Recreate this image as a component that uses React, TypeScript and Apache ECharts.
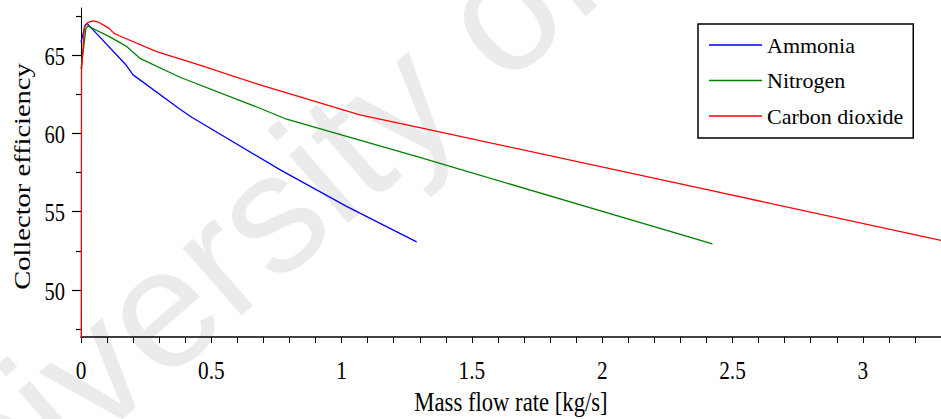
import React, { useEffect, useRef } from 'react';
import * as echarts from 'echarts';

const seriesNames = ['Ammonia', 'Nitrogen', 'Carbon dioxide'];
const seriesColors = ['#0000ff', '#008000', '#ff0000'];

const ammoniaX = [0, 0.016, 0.023, 0.173, 0.2, 0.38, 0.425, 0.763, 1.019, 1.288];
const ammoniaY = [65.8, 66.91, 67.02, 64.36, 63.73, 61.54, 61.03, 57.68, 55.34, 53.07];

const nitrogenX = [0, 0.019, 0.026, 0.109, 0.173, 0.226, 0.38, 0.687, 0.789, 1.019, 1.3, 2.423];
const nitrogenY = [64.1, 66.7, 66.85, 66.17, 65.57, 64.79, 63.58, 61.6, 60.9, 59.8, 58.46, 52.94];

const co2X = [0, 0.002, 0.009, 0.013, 0.026, 0.045, 0.064, 0.108, 0.127, 0.147, 0.29, 0.456, 0.687, 1.07, 1.3, 2.451, 3.3];
const co2Y = [30, 64.0, 65.8, 66.8, 67.06, 67.18, 67.12, 66.7, 66.38, 66.23, 65.21, 64.36, 63.09, 61.18, 60.37, 56.23, 53.17];

const xTickLabels = ['0', '0.5', '1', '1.5', '2', '2.5', '3'];
const xTicks = [0, 0.1, 0.2, 0.3, 0.4, 0.5, 0.6, 0.7, 0.8, 0.9, 1, 1.1, 1.2, 1.3, 1.4, 1.5, 1.6, 1.7, 1.8, 1.9, 2, 2.1, 2.2, 2.3, 2.4, 2.5, 2.6, 2.7, 2.8, 2.9, 3, 3.1, 3.2];
const yTickLabels = ['50', '55', '60', '65'];
const yMinorTicks = [47.5, 52.5, 57.5, 62.5, 67.5];

const xAxisTitle = 'Mass flow rate [kg/s]';
const yAxisTitle = 'Collector efficiency';
const watermarkText = 'University of';

const pairs = (xs: number[], ys: number[]) => xs.map((x, i) => [x, ys[i]]);

export default function App() {
  const ref = useRef<HTMLDivElement>(null);
  useEffect(() => {
    const chart = echarts.init(ref.current!, null, { renderer: 'svg' });
    const font = 'Liberation Serif';
    const xs = [ammoniaX, nitrogenX, co2X];
    const ys = [ammoniaY, nitrogenY, co2Y];
    const yMin = 47;
    const yMax = 68;
    const yMajorValues = yTickLabels.map(Number);
    chart.setOption({
      animation: false,
      backgroundColor: '#ffffff',
      textStyle: { fontFamily: font, fontSize: 22, color: '#000' },
      grid: { left: 81, right: 0, top: 8, bottom: 82, containLabel: false },
      xAxis: {
        type: 'value',
        min: 0,
        max: 3.3,
        axisLine: { show: true, onZero: false, lineStyle: { color: '#000', width: 1.5 } },
        axisTick: { show: true, customValues: xTicks, length: 6, lineStyle: { color: '#000', width: 1 } },
        axisLabel: { show: false },
        splitLine: { show: false },
      },
      yAxis: [
        {
          type: 'value',
          min: yMin,
          max: yMax,
          position: 'left',
          axisLine: { show: true, onZero: false, lineStyle: { color: '#000', width: 1 } },
          axisTick: { show: true, customValues: yMajorValues, length: 9, lineStyle: { color: '#000', width: 1.2 } },
          axisLabel: { show: false },
          splitLine: { show: false },
        },
        {
          type: 'value',
          min: yMin,
          max: yMax,
          position: 'left',
          offset: 0,
          axisLine: { show: false },
          axisTick: { show: true, customValues: yMinorTicks, length: 5, lineStyle: { color: '#000', width: 1.2 } },
          axisLabel: { show: false },
          splitLine: { show: false },
        },
      ],
      legend: {
        orient: 'vertical',
        left: 698,
        top: 24,
        padding: [10, 10, 11, 11],
        itemGap: 13.5,
        itemWidth: 53,
        itemHeight: 1.5,
        icon: 'rect',
        borderColor: '#000',
        borderWidth: 1.5,
        borderRadius: 0,
        backgroundColor: '#ffffff',
        textStyle: { fontFamily: font, fontSize: 22, color: '#000', lineHeight: 22 },
        data: seriesNames,
      },
      series: seriesNames.map((name, i) => ({
        name,
        type: 'line',
        data: pairs(xs[i], ys[i]),
        showSymbol: false,
        symbol: 'none',
        clip: true,
        color: seriesColors[i],
        lineStyle: { color: seriesColors[i], width: 1.3 },
        itemStyle: { color: seriesColors[i] },
        z: 2 + i,
      })),
    });

    // Labels placed through the chart's own scales
    const origin = chart.convertToPixel({ gridIndex: 0 }, [0, yMin]) as number[];
    const top = chart.convertToPixel({ gridIndex: 0 }, [3.3, yMax]) as number[];
    const graphics: any[] = [
      {
        type: 'text',
        x: -78,
        y: 628,
        rotation: 0.716,
        z: -10,
        silent: true,
        style: {
          text: watermarkText,
          fontSize: 170,
          fontFamily: 'Liberation Sans',
          fill: '#ebebeb',
          align: 'left',
          verticalAlign: 'bottom',
        },
      },
    ];
    xTickLabels.forEach((t) => {
      const p = chart.convertToPixel({ gridIndex: 0 }, [Number(t), yMin]) as number[];
      graphics.push({
        type: 'text',
        x: p[0],
        y: p[1] + 33.5,
        scaleX: 0.82,
        z: 10,
        style: { text: t, fontFamily: font, fontSize: 26, fill: '#000', align: 'center', verticalAlign: 'middle' },
      });
    });
    yTickLabels.forEach((t) => {
      const p = chart.convertToPixel({ gridIndex: 0 }, [0, Number(t)]) as number[];
      graphics.push({
        type: 'text',
        x: p[0] - 16,
        y: p[1] + 1.5,
        scaleX: 0.82,
        z: 10,
        style: { text: t, fontFamily: font, fontSize: 25, fill: '#000', align: 'right', verticalAlign: 'middle' },
      });
    });
    graphics.push({
      type: 'text',
      x: (origin[0] + top[0]) / 2,
      y: origin[1] + 65,
      scaleX: 0.84,
      z: 10,
      style: { text: xAxisTitle, fontFamily: font, fontSize: 27, fill: '#000', align: 'center', verticalAlign: 'middle' },
    });
    graphics.push({
      type: 'text',
      x: 22,
      y: (origin[1] + top[1]) / 2 + 4,
      rotation: Math.PI / 2,
      scaleY: 0.82,
      z: 10,
      style: { text: yAxisTitle, fontFamily: font, fontSize: 28.5, fill: '#000', align: 'center', verticalAlign: 'middle' },
    });
    chart.setOption({ graphic: graphics });

    return () => chart.dispose();
  }, []);
  return <div ref={ref} style={{ position: 'fixed', left: 0, top: 0, width: 941, height: 419 }} />;
}
